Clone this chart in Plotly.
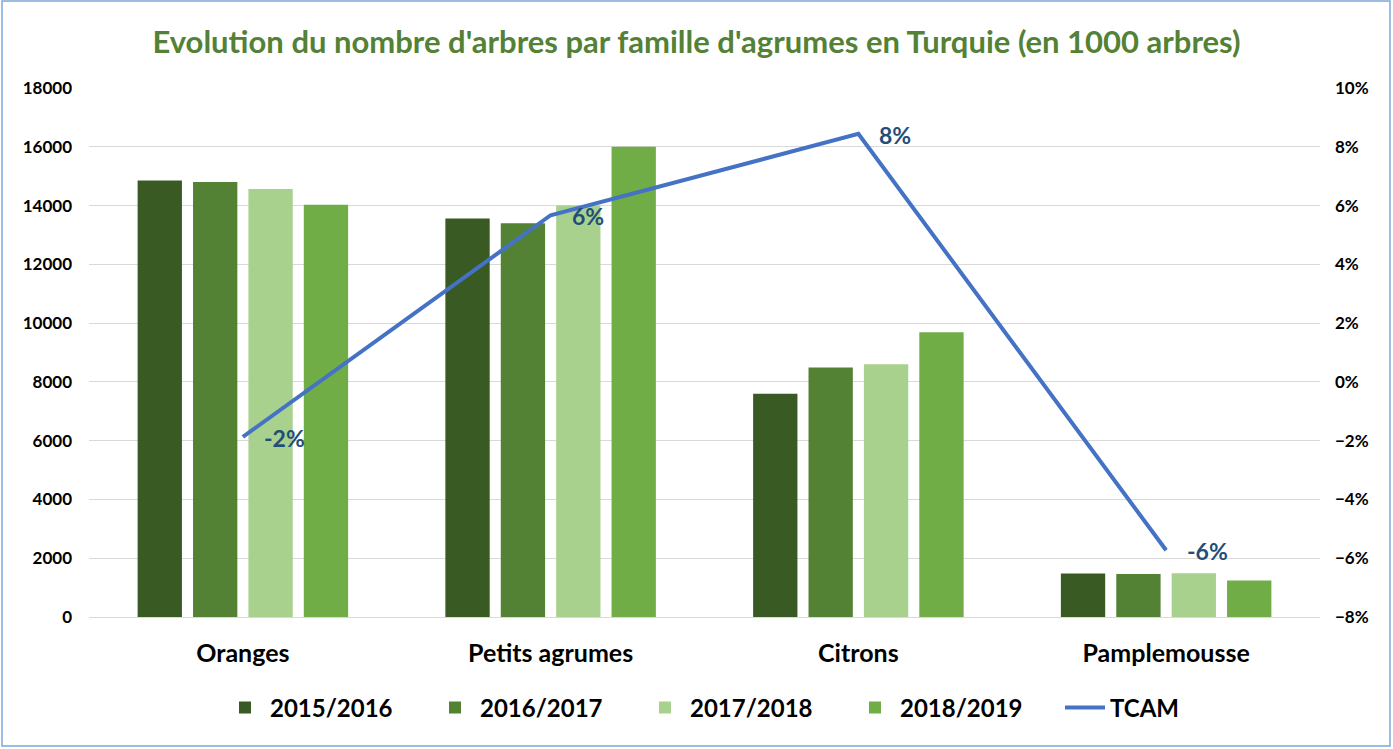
import plotly.graph_objects as go

categories = ["Oranges", "Petits agrumes", "Citrons", "Pamplemousse"]
seasons = ["2015/2016", "2016/2017", "2017/2018", "2018/2019"]
v_2015 = [14850, 13560, 7600, 1480]
v_2016 = [14800, 13400, 8490, 1460]
v_2017 = [14560, 14000, 8600, 1490]
v_2018 = [14030, 16000, 9690, 1240]
tcam = [-0.0187, 0.0567, 0.0844, -0.0573]
tcam_labels = ["-2%", "6%", "8%", "-6%"]

bar_colors = ["#3A5A24", "#548235", "#A9D18E", "#70AD47"]
FONT = "Lato"

W, H = 1393, 749
ML, MR, MT, MB = 89, 73, 88, 132

fig = go.Figure()
for name, vals, col in zip(seasons, [v_2015, v_2016, v_2017, v_2018], bar_colors):
    fig.add_trace(go.Bar(x=categories, y=vals, name=name, marker_color=col,
                         marker_line_width=0))

fig.add_trace(go.Scatter(x=categories, y=tcam, name="TCAM", mode="lines",
                         line=dict(color="#4472C4", width=4), yaxis="y2"))

for c, v, t in zip(categories, tcam, tcam_labels):
    fig.add_annotation(x=c, y=v, xref="x", yref="y2", text="<b>%s</b>" % t,
                       showarrow=False, xanchor="left", yanchor="middle",
                       xshift=19, yshift=-1,
                       font=dict(family=FONT, size=23, color="#1F4E79", weight="bold"))

pw = W - ML - MR
ph = H - MT - MB
def px_x(p):
    return (p - ML) / pw
def px_y(p):
    return (H - MB - p) / ph

fig.add_shape(type="rect", xref="paper", yref="paper",
              x0=px_x(2), x1=px_x(1390), y0=px_y(746), y1=px_y(1),
              line=dict(color="#7EA6D9", width=1.5), fillcolor="rgba(0,0,0,0)")

fig.update_layout(
    width=W, height=H,
    margin=dict(l=ML, r=MR, t=MT, b=MB, autoexpand=False),
    paper_bgcolor="white", plot_bgcolor="white",
    barmode="group", bargap=0.28, bargroupgap=0.2,
    title=dict(text="<b>Evolution du nombre d'arbres par famille d'agrumes en Turquie (en 1000 arbres)</b>",
               x=0.5, xanchor="center", y=1 - 42 / H, yanchor="middle",
               font=dict(family=FONT, size=31, color="#538135")),
    font=dict(family=FONT, color="black"),
    xaxis=dict(showgrid=False, showline=False, ticks="",
               tickfont=dict(family=FONT, size=25, color="black", weight="bold"),
               ticklabelstandoff=19),
    yaxis=dict(range=[0, 18000], dtick=2000, showgrid=True, gridcolor="#D9D9D9",
               gridwidth=1, zeroline=True, zerolinecolor="#D9D9D9", zerolinewidth=1,
               showline=False, ticks="", tickformat="d",
               tickfont=dict(family=FONT, size=17, color="black", weight="bold"),
               ticklabelstandoff=16),
    yaxis2=dict(range=[-0.08, 0.10], dtick=0.02, overlaying="y", side="right",
                showgrid=False, zeroline=False, showline=False, ticks="",
                tickformat=".0%",
                tickfont=dict(family=FONT, size=17, color="black", weight="bold"),
                ticklabelstandoff=14),
    legend=dict(orientation="h", x=px_x(220), xanchor="left", y=px_y(708), yanchor="middle",
                font=dict(family=FONT, size=24, color="black", weight="bold"),
                itemwidth=40, traceorder="normal",
                entrywidth=155, entrywidthmode="pixels"),
    showlegend=True,
)

fig.write_html("out.html", config={"displayModeBar": False},
               post_script="document.body.style.margin='0';")
